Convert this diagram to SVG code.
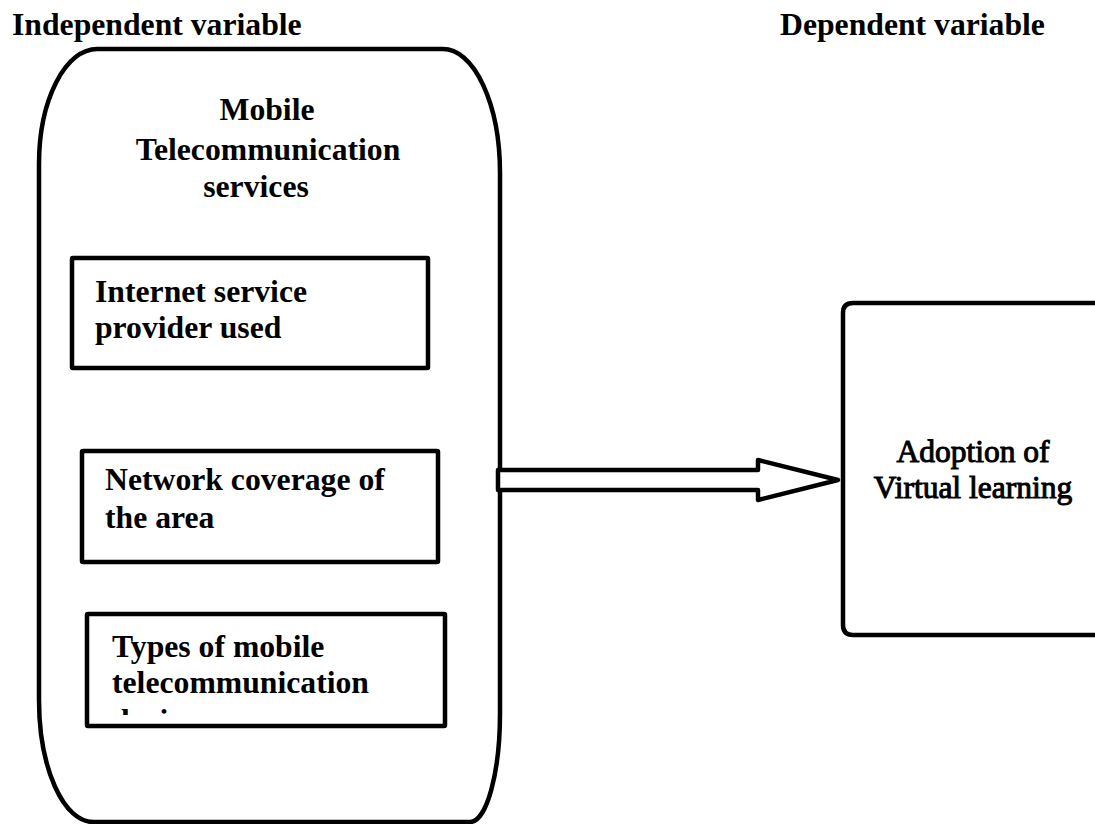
<svg xmlns="http://www.w3.org/2000/svg" width="1095" height="824" viewBox="0 0 1095 824">
  <style>
    .line { fill: #fff; stroke: #000; stroke-width: 4.5; stroke-linejoin: round; }
    .lbl { font-family: "Liberation Serif", "Times New Roman", serif; font-weight: bold; font-size: 31.7px; fill: #000; }
    .dep { font-family: "Liberation Serif", "Times New Roman", serif; font-size: 31.5px; fill: #000; stroke: #000; stroke-width: 1; }
  </style>
  <defs>
    <clipPath id="clip-devices">
      <rect x="88" y="616" width="356" height="99"/>
    </clipPath>
  </defs>
  <rect width="1095" height="824" fill="#fff"/>

  <!-- headings -->
  <text class="lbl" x="12" y="35">Independent variable</text>
  <text class="lbl" x="780" y="35">Dependent variable</text>

  <!-- independent variable container -->
  <g id="mobile-telecom-services">
    <path class="line" d="M97 49 L443 49 A57 124 0 0 1 500 173 L500 713 A30 109 0 0 1 470 822 L93 822 A54 122 0 0 1 39 700 L39 164 A58 115 0 0 1 97 49 Z"/>
    <text class="lbl" text-anchor="middle" x="267" y="120">Mobile</text>
    <text class="lbl" text-anchor="middle" x="268" y="160">Telecommunication</text>
    <text class="lbl" text-anchor="middle" x="256" y="197">services</text>
  </g>

  <g id="internet-service-provider">
    <rect class="line" x="72" y="258" width="356" height="110" rx="1"/>
    <text class="lbl" x="95" y="302">Internet service</text>
    <text class="lbl" x="95" y="338">provider used</text>
  </g>

  <g id="network-coverage">
    <rect class="line" x="82" y="451" width="356" height="111" rx="1"/>
    <text class="lbl" x="105" y="490">Network coverage of</text>
    <text class="lbl" x="105" y="528">the area</text>
  </g>

  <g id="device-types">
    <rect class="line" x="87" y="614" width="358" height="112" rx="1"/>
    <text class="lbl" x="112" y="657">Types of mobile</text>
    <text class="lbl" x="112" y="693">telecommunication</text>
    <text class="lbl" x="112" y="731" clip-path="url(#clip-devices)">devices</text>
  </g>

  <!-- dependent variable -->
  <g id="virtual-learning">
    <path class="line" d="M1100 303 L853 303 Q843 303 843 313 L843 625 Q843 635 853 635 L1100 635"/>
    <text class="dep" text-anchor="middle" x="973" y="462">Adoption of</text>
    <text class="dep" text-anchor="middle" x="973" y="498">Virtual learning</text>
  </g>

  <!-- connector -->
  <g id="connectors">
    <path class="line" d="M498 470 L758 470 L758 460 L838 480 L758 500 L758 490 L498 490 Z"/>
  </g>
</svg>
